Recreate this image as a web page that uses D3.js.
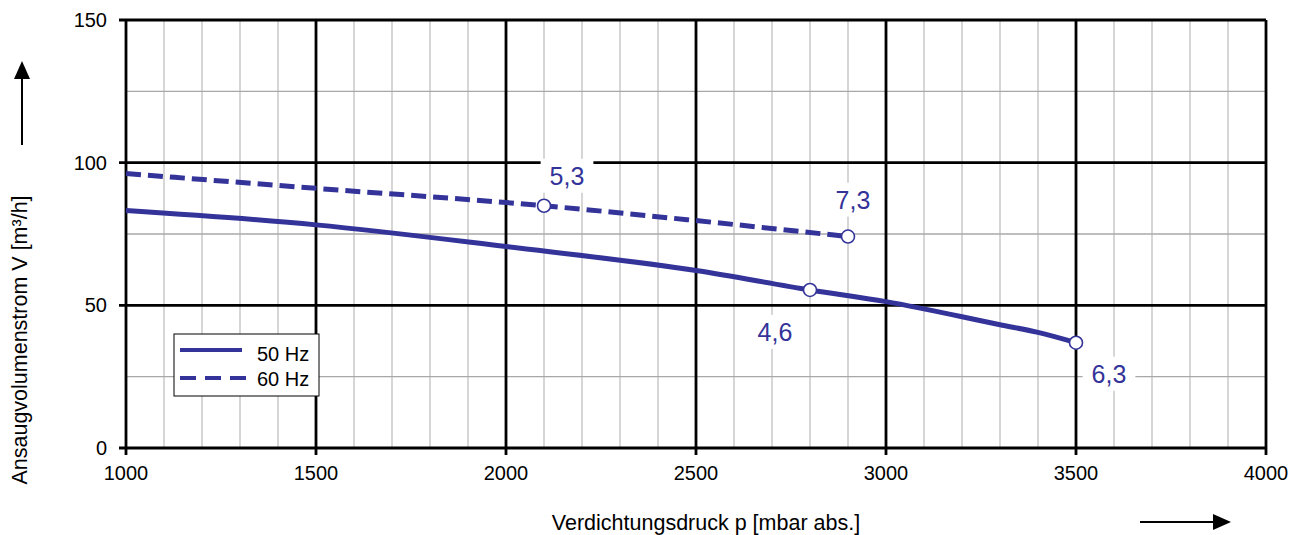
<!DOCTYPE html>
<html><head><meta charset="utf-8">
<script src="https://cdn.jsdelivr.net/npm/d3@7/dist/d3.min.js"></script>
<style>body{margin:0;background:#fff;}svg{display:block;font-family:"Liberation Sans",Arial,sans-serif;}</style>
</head><body><svg id="c" width="1304" height="535"></svg>
<script>
// Data
const p50 = [1000, 1500, 2000, 2500, 2800, 3000, 3300, 3400, 3500];
const v50 = [83.2, 78.2, 70.6, 62.2, 55.4, 51.3, 43.2, 40.5, 36.9];
const p60 = [1000, 1500, 2100, 2500, 2900];
const v60 = [96.2, 91.0, 84.9, 79.7, 74.1];
const markers50 = [[2800, 55.4, "4,6"], [3500, 36.9, "6,3"]];
const markers60 = [[2100, 84.9, "5,3"], [2900, 74.1, "7,3"]];
const xTicks = [1000, 1500, 2000, 2500, 3000, 3500, 4000];
const yTicks = [0, 50, 100, 150];
const seriesNames = ["50 Hz", "60 Hz"];

const color = "#333399";
const svg = d3.select("#c");
const x = d3.scaleLinear().domain([1000, 4000]).range([126, 1266]);
const y = d3.scaleLinear().domain([0, 150]).range([448, 20]);

// grid
const g = svg.append("g");
g.selectAll(".vm").data(d3.range(1000, 4001, 100).filter(d => d % 500)).enter().append("line")
  .attr("x1", d => x(d)).attr("x2", d => x(d)).attr("y1", y(0)).attr("y2", y(150))
  .attr("stroke", "#c0c0c0").attr("stroke-width", 1.3);
g.selectAll(".hm").data(d3.range(25, 150, 50)).enter().append("line")
  .attr("y1", d => y(d)).attr("y2", d => y(d)).attr("x1", x(1000)).attr("x2", x(4000))
  .attr("stroke", "#a8a8a8").attr("stroke-width", 1.3);

// label definitions
const labels = [
  {m: markers60[0], dx: 23, dy: -21},
  {m: markers60[1], dx: 5, dy: -28},
  {m: markers50[0], dx: -35, dy: 51},
  {m: markers50[1], dx: 33, dy: 40}
];
const bgG = svg.append("g");

// major grid
g.selectAll(".vM").data(xTicks).enter().append("line")
  .attr("x1", d => x(d)).attr("x2", d => x(d)).attr("y1", y(0) + 7).attr("y2", y(150))
  .attr("stroke", "#000").attr("stroke-width", 2.8);
g.selectAll(".hM").data(yTicks).enter().append("line")
  .attr("y1", d => y(d)).attr("y2", d => y(d)).attr("x1", x(1000) - 7).attr("x2", x(4000))
  .attr("stroke", "#000").attr("stroke-width", 2.8);

// tick labels
svg.append("g").selectAll("text").data(xTicks).enter().append("text")
  .attr("x", d => x(d)).attr("y", y(0) + 32).attr("text-anchor", "middle")
  .attr("font-size", 20).text(d => d);
svg.append("g").selectAll("text").data(yTicks).enter().append("text")
  .attr("x", 107).attr("y", d => y(d) + 7).attr("text-anchor", "end")
  .attr("font-size", 20).text(d => d);

// axis titles
svg.append("text").attr("x", 706).attr("y", 530).attr("text-anchor", "middle")
  .attr("font-size", 21.5).text("Verdichtungsdruck p [mbar abs.]");
svg.append("text").attr("transform", "translate(27,340) rotate(-90)").attr("text-anchor", "middle")
  .attr("font-size", 21.5).text("Ansaugvolumenstrom V [m³/h]");
// arrows
svg.append("line").attr("x1", 1140).attr("x2", 1216).attr("y1", 522).attr("y2", 522).attr("stroke", "#000").attr("stroke-width", 2);
svg.append("path").attr("d", "M1231,522 L1213,514 L1213,530 Z").attr("fill", "#000");
svg.append("line").attr("x1", 22).attr("x2", 22).attr("y1", 145).attr("y2", 78).attr("stroke", "#000").attr("stroke-width", 2);
svg.append("path").attr("d", "M22,61 L14,79 L30,79 Z").attr("fill", "#000");

// lines
const line = d3.line().x(d => x(d[0])).y(d => y(d[1])).curve(d3.curveMonotoneX);
svg.append("path").datum(d3.zip(p50, v50)).attr("d", line).attr("fill", "none")
  .attr("stroke", color).attr("stroke-width", 5);
svg.append("path").datum(d3.zip(p60, v60)).attr("d", line).attr("fill", "none")
  .attr("stroke", color).attr("stroke-width", 5).attr("stroke-dasharray", "15,7");

// markers
svg.append("g").selectAll("circle").data(markers50.concat(markers60)).enter().append("circle")
  .attr("cx", d => x(d[0])).attr("cy", d => y(d[1])).attr("r", 6.5)
  .attr("fill", "#fff").attr("stroke", color).attr("stroke-width", 1.6);

// data labels
labels.forEach(l => {
  const t = svg.append("text").attr("x", x(l.m[0]) + l.dx).attr("y", y(l.m[1]) + l.dy)
    .attr("text-anchor", "middle").attr("font-size", 25).attr("fill", color).text(l.m[2]);
  const b = t.node().getBBox();
  bgG.append("rect").attr("x", b.x - 9).attr("y", b.y - 3).attr("width", b.width + 18).attr("height", b.height + 6).attr("fill", "#fff");
});

// legend
const lg = svg.append("g");
lg.append("rect").attr("x", 174).attr("y", 334).attr("width", 145).attr("height", 62)
  .attr("fill", "#fff").attr("stroke", "#000").attr("stroke-width", 1);
lg.append("line").attr("x1", 180).attr("x2", 242).attr("y1", 350).attr("y2", 350)
  .attr("stroke", color).attr("stroke-width", 4);
lg.append("line").attr("x1", 180).attr("x2", 253).attr("y1", 378).attr("y2", 378)
  .attr("stroke", color).attr("stroke-width", 4).attr("stroke-dasharray", "16,9");
lg.selectAll("text").data(seriesNames).enter().append("text")
  .attr("x", 257).attr("y", (d, i) => 361 + i * 25).attr("font-size", 20).text(d => d);
</script></body></html>
